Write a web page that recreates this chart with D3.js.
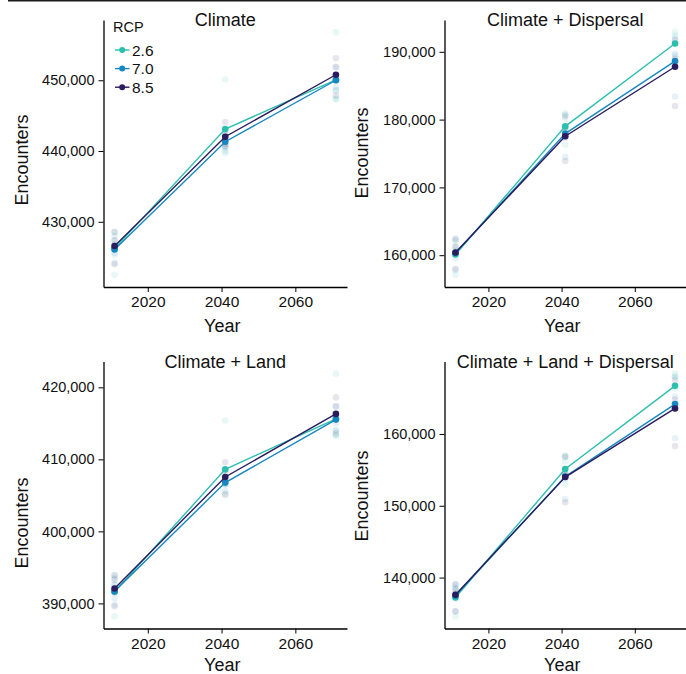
<!DOCTYPE html>
<html>
<head>
<meta charset="utf-8">
<script src="https://cdn.jsdelivr.net/npm/d3@7"></script>
<style>
  body { margin: 0; background: #fff; }
  svg text { font-family: "Liberation Sans", Arial, Helvetica, sans-serif; fill: #111; }
</style>
</head>
<body>
<div id="chart"></div>
<script>
// data
const years = [2011, 2041, 2071];
const rcps = ["2.6", "7.0", "8.5"];
const colors = ["#2dbfae", "#1787c2", "#2a1c5e"];
const xTicks = [2020, 2040, 2060];

// mean per RCP (rows 2.6, 7.0, 8.5), one value per year
const climateMean = [[426240, 443110, 450050], [426100, 441310, 450000], [426570, 442020, 450780]];
const dispersalMean = [[160100, 179000, 191230], [160300, 177940, 188630], [160400, 177540, 187790]];
const landMean = [[391610, 408610, 415620], [391700, 406770, 415520], [392070, 407550, 416310]];
const landDispersalMean = [[137230, 155130, 166700], [137470, 154060, 164160], [137600, 154000, 163550]];

// individual model runs per RCP, per year
const climateModels = [
  [[428500, 427300, 425300, 422500], [450100, 442500, 440500, 439700], [456800, 448500, 447400, 447300]],
  [[428000, 426800, 424200, 425600], [442800, 441800, 440000, 440600], [451800, 450500, 448600, 449100]],
  [[428600, 427400, 426300, 424000], [444100, 442300, 441000, 440700], [453100, 451900, 450300, 447800]]
];
const dispersalModels = [
  [[162000, 160500, 160700, 157100], [180900, 180100, 178800, 176300], [192900, 192400, 191200, 188400]],
  [[162500, 161300, 159600, 157800], [180700, 178900, 177600, 174500], [192000, 189700, 189400, 183400]],
  [[162300, 161200, 160200, 158000], [180500, 178500, 177300, 173900], [191700, 189000, 188500, 182000]]
];
const landModels = [
  [[393900, 392500, 391600, 388200], [415400, 406500, 407300, 405200], [421900, 414000, 413300, 413300]],
  [[393500, 392600, 390700, 389800], [408400, 406500, 406600, 405600], [417300, 415800, 415000, 414000]],
  [[393900, 393300, 391500, 389600], [409600, 408200, 407300, 405100], [418600, 417400, 415600, 413600]]
];
const landDispersalModels = [
  [[138600, 137900, 137700, 134600], [157000, 156200, 154200, 153100], [168400, 167900, 166300, 164200]],
  [[139000, 138500, 137100, 135300], [156900, 154600, 153800, 150900], [168000, 165200, 164000, 159400]],
  [[139100, 138300, 137700, 135300], [156800, 154300, 154400, 150500], [167500, 164800, 163600, 158300]]
];

const climateTicks = [430000, 440000, 450000];
const dispersalTicks = [160000, 170000, 180000, 190000];
const landTicks = [390000, 400000, 410000, 420000];
const landDispersalTicks = [140000, 150000, 160000];

const width = 686, height = 674;

const svg = d3.select("#chart").append("svg")
    .attr("width", width)
    .attr("height", height);

// thin rule along the top edge
svg.append("line")
    .attr("x1", 8).attr("x2", width)
    .attr("y1", 0.75).attr("y2", 0.75)
    .attr("stroke", "#1a1a1a")
    .attr("stroke-width", 1.5);

const panels = [
  { title: "Climate", mean: climateMean, models: climateModels, ticks: climateTicks,
    left: 103.5, right: 347, top: 20, bottom: 287, labX: 28, labY: 160, yearY: 332, legend: true },
  { title: "Climate + Dispersal", mean: dispersalMean, models: dispersalModels, ticks: dispersalTicks,
    left: 444.5, right: 686, top: 20, bottom: 287, labX: 368, labY: 153, yearY: 332 },
  { title: "Climate + Land", mean: landMean, models: landModels, ticks: landTicks,
    left: 103.5, right: 347, top: 361.5, bottom: 628.5, labX: 28, labY: 523, yearY: 670.5 },
  { title: "Climate + Land + Dispersal", mean: landDispersalMean, models: landDispersalModels, ticks: landDispersalTicks,
    left: 444.5, right: 686, top: 361.5, bottom: 628.5, labX: 368, labY: 496, yearY: 670.5 }
];

// ggplot-like 5% expansion
function padded(ext) {
  const p = (ext[1] - ext[0]) * 0.05;
  return [ext[0] - p, ext[1] + p];
}

panels.forEach(function (p) {
  const g = svg.append("g");

  const x = d3.scaleLinear()
      .domain(padded(d3.extent(years)))
      .range([p.left, p.right]);

  const allValues = p.models.flat(2).concat(p.mean.flat());
  const y = d3.scaleLinear()
      .domain(padded(d3.extent(allValues)))
      .range([p.bottom, p.top]);

  // x axis
  const gx = g.append("g")
      .attr("transform", `translate(0,${p.bottom})`)
      .call(d3.axisBottom(x).tickValues(xTicks).tickFormat(d3.format("d"))
          .tickSize(5).tickSizeOuter(0).tickPadding(4));
  gx.selectAll("text").attr("font-size", "15.5px");

  // y axis
  const gy = g.append("g")
      .attr("transform", `translate(${p.left},0)`)
      .call(d3.axisLeft(y).tickValues(p.ticks).tickFormat(d3.format(","))
          .tickSize(5).tickSizeOuter(0).tickPadding(4));
  gy.selectAll("text").attr("font-size", "14.5px");

  g.selectAll(".domain").attr("stroke", "#000").attr("stroke-width", 1.3);
  g.selectAll(".tick line").attr("stroke", "#000").attr("stroke-width", 1);

  // panel title
  g.append("text")
      .attr("x", (p.left + p.right) / 2)
      .attr("y", p.top + 6)
      .attr("text-anchor", "middle")
      .attr("font-size", "18px")
      .text(p.title);

  // axis titles
  g.append("text")
      .attr("x", (p.left + p.right) / 2 - 3)
      .attr("y", p.yearY)
      .attr("text-anchor", "middle")
      .attr("font-size", "18px")
      .text("Year");

  g.append("text")
      .attr("transform", `translate(${p.labX},${p.labY}) rotate(-90)`)
      .attr("text-anchor", "middle")
      .attr("font-size", "18px")
      .text("Encounters");

  // faint model points
  p.models.forEach(function (byYear, i) {
    byYear.forEach(function (vals, j) {
      g.selectAll(null)
          .data(vals)
          .join("circle")
          .attr("cx", x(years[j]))
          .attr("cy", d => y(d))
          .attr("r", 3.3)
          .attr("fill", colors[i])
          .attr("fill-opacity", 0.11);
    });
  });

  // mean lines and points
  const line = d3.line()
      .x((d, j) => x(years[j]))
      .y(d => y(d));

  p.mean.forEach(function (vals, i) {
    g.append("path")
        .datum(vals)
        .attr("d", line)
        .attr("fill", "none")
        .attr("stroke", colors[i])
        .attr("stroke-width", 1.4);
    g.selectAll(null)
        .data(vals)
        .join("circle")
        .attr("cx", (d, j) => x(years[j]))
        .attr("cy", d => y(d))
        .attr("r", 3.3)
        .attr("fill", colors[i]);
  });

  if (p.legend) {
    const lg = g.append("g");
    lg.append("text")
        .attr("x", 113)
        .attr("y", 31.5)
        .attr("font-size", "14.5px")
        .text("RCP");
    const item = lg.selectAll("g")
        .data(rcps)
        .join("g")
        .attr("transform", (d, i) => `translate(0,${50 + i * 18.6})`);
    item.append("line")
        .attr("x1", 115).attr("x2", 129.5)
        .attr("stroke", (d, i) => colors[i])
        .attr("stroke-width", 1.4);
    item.append("circle")
        .attr("cx", 122.2)
        .attr("r", 3)
        .attr("fill", (d, i) => colors[i]);
    item.append("text")
        .attr("x", 132)
        .attr("y", 5.5)
        .attr("font-size", "15.5px")
        .text(d => d);
  }
});
</script>
</body>
</html>
